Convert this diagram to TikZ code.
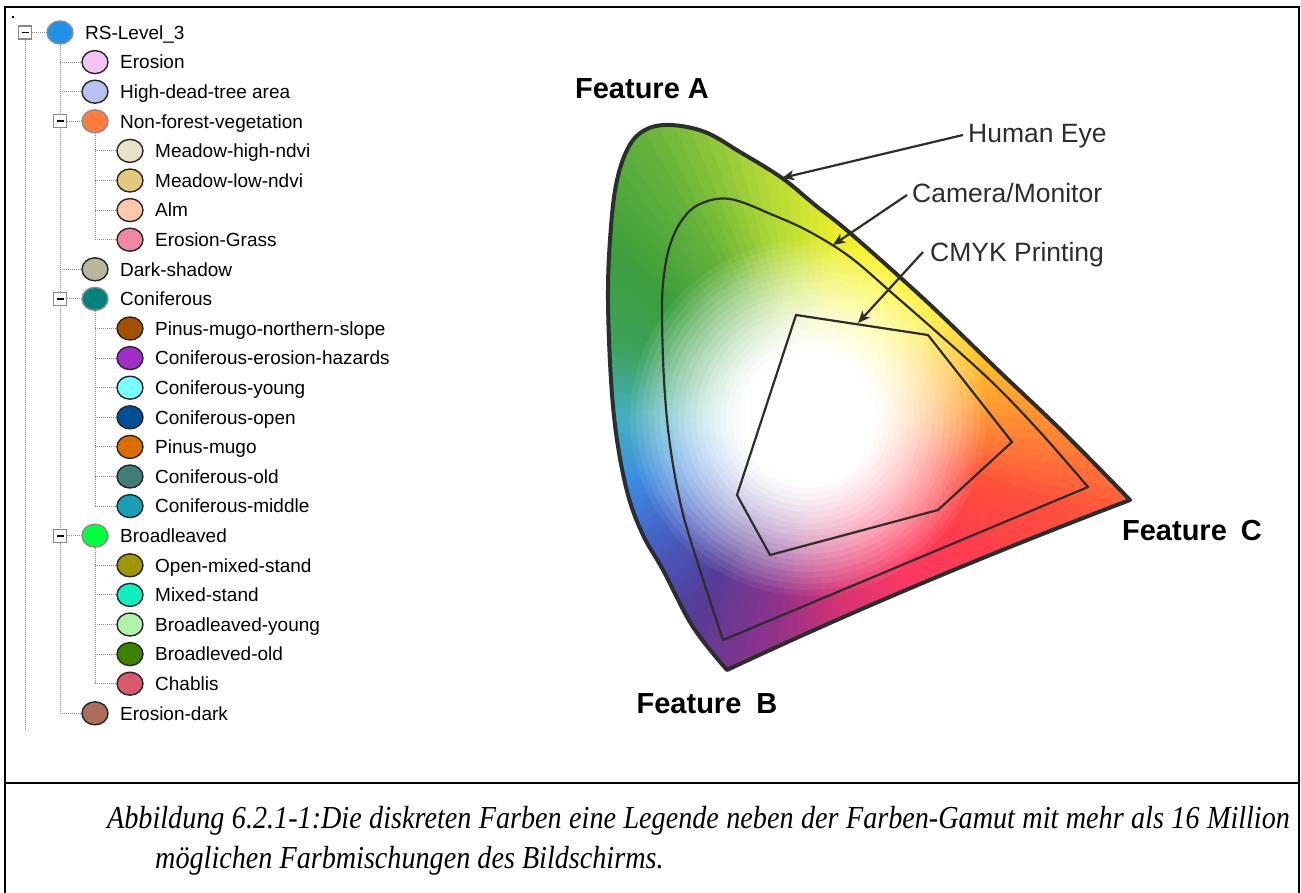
\documentclass[tikz,border=0pt]{standalone}
\usepackage{fontspec}
\setmainfont{Liberation Serif}
\setsansfont{Liberation Sans}
\newfontfamily\capfont{Liberation Serif}
\usetikzlibrary{arrows.meta,shapes.geometric}

% general inks
\definecolor{ink}{RGB}{45,45,45}
\definecolor{treegray}{RGB}{140,140,140}
\definecolor{boxgray}{RGB}{135,135,135}
\definecolor{rimgray}{RGB}{140,140,140}

% legend swatches
\definecolor{k0}{RGB}{30,144,230}
\definecolor{k1}{RGB}{245,195,240}
\definecolor{k2}{RGB}{185,195,240}
\definecolor{k3}{RGB}{255,125,60}
\definecolor{k4}{RGB}{235,225,200}
\definecolor{k5}{RGB}{228,200,125}
\definecolor{k6}{RGB}{255,200,170}
\definecolor{k7}{RGB}{240,135,165}
\definecolor{k8}{RGB}{185,182,160}
\definecolor{k9}{RGB}{0,130,125}
\definecolor{k10}{RGB}{165,80,0}
\definecolor{k11}{RGB}{160,45,200}
\definecolor{k12}{RGB}{120,255,255}
\definecolor{k13}{RGB}{0,80,150}
\definecolor{k14}{RGB}{220,110,0}
\definecolor{k15}{RGB}{65,125,120}
\definecolor{k16}{RGB}{25,160,180}
\definecolor{k17}{RGB}{0,255,60}
\definecolor{k18}{RGB}{160,150,0}
\definecolor{k19}{RGB}{15,240,190}
\definecolor{k20}{RGB}{178,242,170}
\definecolor{k21}{RGB}{60,130,0}
\definecolor{k22}{RGB}{215,90,110}
\definecolor{k23}{RGB}{170,110,90}

% hues around the gamut, every 20 degrees
\definecolor{g0}{RGB}{255,145,50}
\definecolor{g1}{RGB}{255,195,40}
\definecolor{g2}{RGB}{255,236,30}
\definecolor{g3}{RGB}{255,246,35}
\definecolor{g4}{RGB}{238,240,40}
\definecolor{g5}{RGB}{180,218,55}
\definecolor{g6}{RGB}{100,178,58}
\definecolor{g7}{RGB}{60,158,60}
\definecolor{g8}{RGB}{60,163,95}
\definecolor{g9}{RGB}{70,175,190}
\definecolor{g10}{RGB}{60,140,225}
\definecolor{g11}{RGB}{70,95,195}
\definecolor{g12}{RGB}{85,60,150}
\definecolor{g13}{RGB}{140,50,140}
\definecolor{g14}{RGB}{215,50,115}
\definecolor{g15}{RGB}{250,55,100}
\definecolor{g16}{RGB}{255,60,80}
\definecolor{g17}{RGB}{255,78,62}

\pgfdeclarelayer{lines}
\pgfsetlayers{lines,main}

\def\GamutEye{plot[smooth, tension=0.6] coordinates {(1130,500) (1063,432) (1000,372) (925,300) (850,233) (815,205) (782,178) (740,152) (705,132) (670,125) (645,130) (628,148) (616,185) (610,240) (608,300) (611,380) (617,440) (628,495) (643,535) (663,570) (693,627) (727,670)} .. controls (861,607) and (996,551) .. (1130,500) -- cycle}
\def\GamutMonitor{plot[smooth, tension=0.6] coordinates {(1088,487) (1040,432) (993,383) (940,335) (892,293) (850,257) (810,232) (773,215) (730,199) (700,204) (682,220) (670,245) (664,275) (662,310) (664,380) (670,445) (682,510) (700,570) (723,640)} -- cycle}

\begin{document}
\begin{tikzpicture}[x=1pt,y=-1pt,
  treeline/.style={draw=treegray, line width=1pt, dash pattern=on 1pt off 1pt},
  swatch/.style={ellipse, minimum width=26pt, minimum height=23pt, inner sep=0pt, line width=1.4pt, draw=black!85},
  parentswatch/.style={swatch, draw=rimgray},
  item/.style={anchor=west, inner sep=0pt, text height=13.6pt, text depth=0pt, font=\sffamily\fontsize{19}{22}\selectfont},
  expander/.style={rectangle, draw=boxgray, fill=white, line width=1.3pt, minimum size=13pt, inner sep=0pt},
  minus/.style={draw=black, line width=1.6pt},
  gamutrim/.style={draw=ink, line width=4pt, line join=round},
  gamutline/.style={draw=ink, line width=2.2pt, line join=round},
  pointer/.style={draw=ink, line width=2.2pt, -{Stealth[length=12pt,width=10pt,inset=3pt]}},
  gamutlabel/.style={anchor=west, inner sep=0pt, text=ink, text height=19pt, text depth=0pt, font=\sffamily\fontsize{26.5}{30}\selectfont},
  feature/.style={inner sep=0pt, text height=20.8pt, text depth=0pt, font=\sffamily\bfseries\fontsize{29}{33}\selectfont},
  frame/.style={draw=black, line width=1.5pt}
]
\useasboundingbox (0,0) rectangle (1301,893);

% ---------- outer frame and caption rule ----------
\draw[frame] (5,893) -- (5,7) -- (1299,7) -- (1299,893);
\draw[frame] (5,783) -- (1299,783);
\fill[black] (12,16) rectangle (14,18);

% ---------- legend tree ----------
\coordinate (j0) at (25,32.5);
\node[expander] (e0) at (j0) {};
\draw[minus] ([xshift=-3.5pt]e0.center) -- ([xshift=3.5pt]e0.center);
\node[parentswatch, fill=k0] (c0) at (60,32.5) {};
\draw[treeline] (e0.east) -- (c0.west);
\node[item] (t0) at (85,32.5) {RS-Level\_3};

\foreach \i/\lv/\ex/\txt in {
  1/1/0/Erosion,
  2/1/0/High-dead-tree area,
  3/1/1/Non-forest-vegetation,
  4/2/0/Meadow-high-ndvi,
  5/2/0/Meadow-low-ndvi,
  6/2/0/Alm,
  7/2/0/Erosion-Grass,
  8/1/0/Dark-shadow,
  9/1/1/Coniferous,
  10/2/0/Pinus-mugo-northern-slope,
  11/2/0/Coniferous-erosion-hazards,
  12/2/0/Coniferous-young,
  13/2/0/Coniferous-open,
  14/2/0/Pinus-mugo,
  15/2/0/Coniferous-old,
  16/2/0/Coniferous-middle,
  17/1/1/Broadleaved,
  18/2/0/Open-mixed-stand,
  19/2/0/Mixed-stand,
  20/2/0/Broadleaved-young,
  21/2/0/Broadleved-old,
  22/2/0/Chablis,
  23/1/0/Erosion-dark}{
  \pgfmathsetmacro\yy{32.5+29.6*\i}
  \pgfmathsetmacro\cx{60+35*\lv}
  \pgfmathsetmacro\vx{25+35*\lv}
  \coordinate (j\i) at (\vx,\yy);
  \ifnum\ex=1
    \node[parentswatch, fill=k\i] (c\i) at (\cx,\yy) {};
    \node[expander] (e\i) at (j\i) {};
    \draw[minus] ([xshift=-3.5pt]e\i.center) -- ([xshift=3.5pt]e\i.center);
    \draw[treeline] (e\i.east) -- (c\i.west);
  \else
    \node[swatch, fill=k\i] (c\i) at (\cx,\yy) {};
    \draw[treeline] (j\i) -- (c\i.west);
  \fi
  \node[item] (t\i) at (\cx+25,\yy) {\txt};
}

\coordinate (rootEnd) at (25,730);
\begin{pgfonlayer}{lines}
  \draw[treeline] (e0.south) -- (rootEnd);
  \draw[treeline] (c0.south) -- (j23);
  \draw[treeline] (c3.south) -- (j7);
  \draw[treeline] (c9.south) -- (j16);
  \draw[treeline] (c17.south) -- (j22);
\end{pgfonlayer}

% ---------- colour gamut ----------
% polar grid around the white point: hue by angle, paler towards the middle
\coordinate (W) at (808,418);
\begin{scope}
  \clip \GamutEye;
  \foreach \a/\ca/\cb in {0/g0/g1,20/g1/g2,40/g2/g3,60/g3/g4,80/g4/g5,100/g5/g6,
      120/g6/g7,140/g7/g8,160/g8/g9,180/g9/g10,200/g10/g11,220/g11/g12,
      240/g12/g13,260/g13/g14,280/g14/g15,300/g15/g16,320/g16/g17,340/g17/g0}{
    \foreach \s in {0,...,7}{
      \pgfmathtruncatemacro\p{12.5*\s+6.25}
      \pgfmathsetmacro\aa{\a+2.5*\s-0.3}
      \pgfmathsetmacro\ab{\a+2.5*\s+2.8}
      \colorlet{huenow}{\cb!\p!\ca}
      \fill[huenow] (W) +(\aa:181pt) -- +(\aa:700pt) -- +(\ab:700pt) -- +(\ab:181pt) -- cycle;
      \foreach \r in {58,64,...,178}{
        \pgfmathtruncatemacro\q{min(100,max(0,100*((\r+3-60)/120)^1.4))}
        \pgfmathsetmacro\ro{\r+7}
        \fill[huenow!\q!white] (W) +(\aa:\r pt) -- +(\aa:\ro pt) -- +(\ab:\ro pt) -- +(\ab:\r pt) -- cycle;
      }
    }
  }
  \fill[white] (W) circle (59pt);
\end{scope}

\draw[gamutrim] \GamutEye;
\draw[gamutline] \GamutMonitor;
\draw[gamutline, line join=miter] (796,315) -- (928,335) -- (1012,442) -- (938,510) -- (770,555) -- (737,495) -- cycle;

% ---------- labels and pointers ----------
\node[feature] (fa) at (642,88) {Feature A};
\node[feature] (fb) at (707,703) {Feature\hspace{7pt} B};
\node[feature] (fc) at (1192,530) {Feature\hspace{6pt} C};

\node[gamutlabel] (eye) at (968,133) {Human Eye};
\node[gamutlabel] (cam) at (912,193) {Camera/Monitor};
\node[gamutlabel] (cmyk) at (930,252) {CMYK Printing};

\coordinate (eyeTip) at (782,178);
\coordinate (camTip) at (833,245);
\coordinate (cmykTip) at (858,323);
\draw[pointer] ([xshift=-5pt,yshift=-2pt]eye.west) -- (eyeTip);
\draw[pointer] ([xshift=-5pt,yshift=-2pt]cam.west) -- (camTip);
\draw[pointer] ([xshift=-7pt]cmyk.west) -- (cmykTip);

% ---------- caption ----------
\node[anchor=base west, inner sep=0pt] (cap1) at (107,828)
  {\scalebox{0.88}[1]{\capfont\itshape\fontsize{32}{38}\selectfont
   \makebox[1344pt][s]{Abbildung 6.2.1-1:Die diskreten Farben eine Legende neben der Farben-Gamut mit mehr als 16 Million}}};
\node[anchor=base west, inner sep=0pt] (cap2) at (155,868)
  {\scalebox{0.88}[1]{\capfont\itshape\fontsize{32}{38}\selectfont
   möglichen Farbmischungen des Bildschirms.}};
\end{tikzpicture}
\end{document}
